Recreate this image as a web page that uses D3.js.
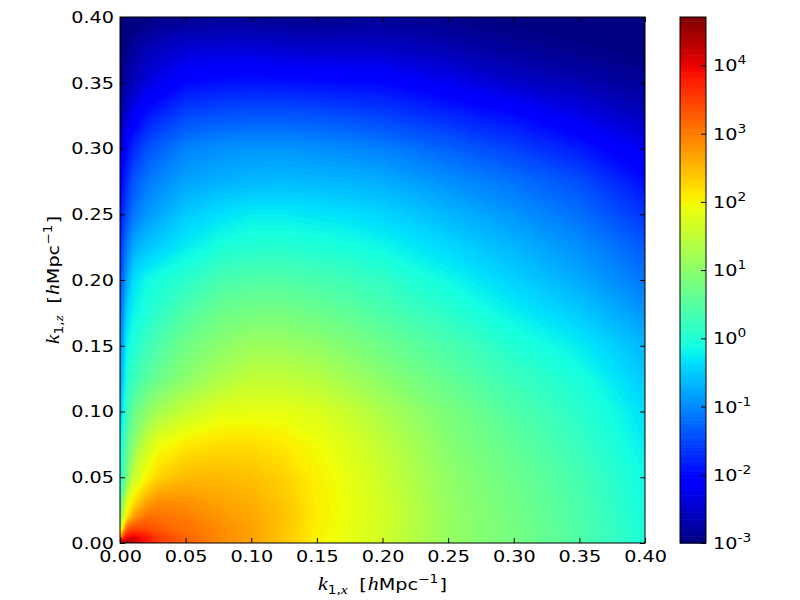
<!DOCTYPE html>
<html>
<head>
<meta charset="utf-8">
<script src="https://cdn.jsdelivr.net/npm/d3@7"></script>
<style>
  body { margin: 0; background: #fff; }
  text { font-family: "DejaVu Sans", sans-serif; fill: #000; }
</style>
</head>
<body>
<div id="chart"></div>
<script>
// grid nodes (h/Mpc), denser close to the axes where the field changes fast
var kxNodes = [0, 0.005, 0.01, 0.02, 0.03, 0.05, 0.075, 0.1, 0.125, 0.15, 0.175, 0.2, 0.25, 0.3, 0.35, 0.4];
var kzNodes = [0, 0.005, 0.01, 0.02, 0.03, 0.05, 0.075, 0.1, 0.125, 0.15, 0.175, 0.2, 0.225, 0.25, 0.275, 0.3, 0.325, 0.35, 0.375, 0.4];

// log10 of the mapped value, one row per kz node, one column per kx node
var logP = [
  [ 4.4,  4.6,  4.4,  3.9,  3.55, 3.2,  2.9,  2.7,  2.4,  2.05, 1.85, 1.65, 1.1,  0.8,  0.45, -0.05],
  [ 2.8,  3.8,  4.0,  3.8,  3.5,  3.2,  2.9,  2.7,  2.4,  2.05, 1.85, 1.65, 1.1,  0.8,  0.45, -0.05],
  [ 1.6,  3.3,  3.5,  3.45, 3.3,  3.1,  2.9,  2.7,  2.4,  2.05, 1.85, 1.65, 1.1,  0.8,  0.45, -0.05],
  [ 1.0,  2.1,  2.7,  3.1,  3.1,  3.0,  2.8,  2.65, 2.45, 2.08, 1.88, 1.68, 1.1,  0.78, 0.42, -0.08],
  [ 0.5,  1.8,  2.2,  2.7,  2.9,  2.85, 2.7,  2.6,  2.4,  2.08, 1.88, 1.66, 1.08, 0.76, 0.4,  -0.1],
  [ 0.0,  0.8,  1.55, 2.0,  2.3,  2.5,  2.5,  2.45, 2.3,  2.05, 1.85, 1.6,  1.05, 0.7,  0.35, -0.15],
  [-0.3,  0.55, 1.0,  1.6,  1.9,  2.1,  2.2,  2.2,  2.1,  1.95, 1.75, 1.5,  0.95, 0.6,  0.22, -0.25],
  [-0.6,  0.25, 0.65, 1.0,  1.25, 1.55, 1.8,  1.85, 1.85, 1.75, 1.55, 1.3,  0.85, 0.45, 0.1,  -0.35],
  [-0.85, 0.0,  0.25, 0.5,  0.7,  1.0,  1.3,  1.5,  1.5,  1.4,  1.2,  1.0,  0.62, 0.25, -0.05, -0.5],
  [-1.05, -0.2, 0.0,  0.25, 0.45, 0.75, 1.0,  1.15, 1.15, 1.05, 0.9,  0.72, 0.4,  0.02, -0.25, -0.65],
  [-1.3, -0.45, -0.2, 0.0,  0.15, 0.45, 0.7,  0.8,  0.8,  0.7,  0.58, 0.42, 0.1,  -0.22, -0.5, -0.9],
  [-1.5, -0.8, -0.35, -0.15, -0.05, 0.1, 0.35, 0.45, 0.45, 0.37, 0.28, 0.15, -0.15, -0.45, -0.75, -1.15],
  [-1.7, -1.1, -0.75, -0.55, -0.45, -0.25, -0.05, 0.05, 0.05, 0.0, -0.07, -0.16, -0.4, -0.66, -0.95, -1.35],
  [-1.9, -1.45, -1.15, -0.9, -0.75, -0.5, -0.35, -0.25, -0.25, -0.3, -0.35, -0.42, -0.65, -0.9, -1.2, -1.65],
  [-2.1, -1.7, -1.4, -1.15, -1.0, -0.8, -0.7, -0.65, -0.62, -0.65, -0.67, -0.72, -0.95, -1.17, -1.45, -1.95],
  [-2.5, -2.0, -1.75, -1.45, -1.3, -1.05, -0.95, -0.9, -0.9, -0.95, -1.0, -1.07, -1.3, -1.55, -1.85, -2.25],
  [-2.8, -2.45, -2.2, -1.9, -1.75, -1.5, -1.42, -1.38, -1.38, -1.42, -1.48, -1.55, -1.75, -1.97, -2.3, -2.6],
  [-2.95, -2.75, -2.6, -2.4, -2.25, -2.0, -1.92, -1.9, -1.92, -1.95, -1.98, -2.0, -2.25, -2.5, -2.67, -2.85],
  [-3.1, -2.95, -2.8, -2.65, -2.55, -2.42, -2.4, -2.4, -2.45, -2.5, -2.5, -2.52, -2.65, -2.83, -2.92, -3.0],
  [-3.2, -3.1, -3.05, -3.0, -2.95, -2.9, -2.88, -2.88, -2.9, -2.9, -2.88, -2.85, -2.95, -3.0, -3.05, -3.1]
];

var axisTicks = [0, 0.05, 0.1, 0.15, 0.2, 0.25, 0.3, 0.35, 0.4];
var cbExponents = [-3, -2, -1, 0, 1, 2, 3, 4];
var vmin = -3, vmax = 4.71;

var margin = {top: 17, left: 120},
    width = 525,
    height = 526,
    cbLeft = 680,
    cbWidth = 26;

var fontSize = 16.7,
    stretch = 1.15;   // the reference text is drawn a little wide

var svg = d3.select("#chart").append("svg")
    .attr("width", 800)
    .attr("height", 600);

var x = d3.scaleLinear().domain([0, 0.4]).range([0, width]);
var y = d3.scaleLinear().domain([0, 0.4]).range([height, 0]);

// matplotlib "jet"
var jetR = d3.scaleLinear().domain([0, 0.35, 0.66, 0.89, 1]).range([0, 0, 1, 1, 0.5]).clamp(true);
var jetG = d3.scaleLinear().domain([0, 0.125, 0.375, 0.64, 0.91, 1]).range([0, 0, 1, 1, 0, 0]).clamp(true);
var jetB = d3.scaleLinear().domain([0, 0.11, 0.34, 0.65, 1]).range([0.5, 1, 1, 0, 0]).clamp(true);
var norm = d3.scaleLinear().domain([vmin, vmax]).range([0, 1]).clamp(true);
function color(v) {
  var t = norm(v);
  return d3.rgb(jetR(t) * 255, jetG(t) * 255, jetB(t) * 255).toString();
}

// filled contours of the grid, stacked from low to high
var nx = kxNodes.length, nz = kzNodes.length;
var values = [].concat.apply([], logP);
var step = 0.05;
var thresholds = d3.range(-3.3, vmax + step, step);
var contours = d3.contours().size([nx, nz]).thresholds(thresholds)(values);

// grid index -> k (nodes are not evenly spaced)
var ix = d3.scaleLinear().domain(d3.range(nx)).range(kxNodes).clamp(true);
var iz = d3.scaleLinear().domain(d3.range(nz)).range(kzNodes).clamp(true);
var proj = d3.geoTransform({
  point: function(px, py) { this.stream.point(x(ix(px - 0.5)), y(iz(py - 0.5))); }
});
var path = d3.geoPath(proj);

var g = svg.append("g")
    .attr("transform", "translate(" + margin.left + "," + margin.top + ")");

g.append("g").selectAll("path")
    .data(contours)
    .enter()
    .append("path")
    .attr("d", path)
    .attr("fill", function(d) { return color(d.value + step / 2); })
    .attr("stroke", "none");

// axes, ticks pointing inwards on all four sides
function styleAxis(sel) {
  sel.select(".domain").remove();
  sel.selectAll(".tick line").attr("stroke", "#000");
  sel.selectAll("text")
      .attr("font-size", fontSize)
      .attr("font-family", "DejaVu Sans")
      .attr("transform", function() {
        var tx = +d3.select(this).attr("x") || 0;
        return "translate(" + tx + ",0) scale(" + stretch + ",1) translate(" + (-tx) + ",0)";
      });
}
var fmt = d3.format(".2f");

g.append("g")
    .attr("transform", "translate(0," + height + ")")
    .call(d3.axisBottom(x).tickValues(axisTicks).tickFormat(fmt).tickSizeInner(-5).tickSizeOuter(0).tickPadding(7))
    .call(styleAxis);
g.append("g")
    .call(d3.axisLeft(y).tickValues(axisTicks).tickFormat(fmt).tickSizeInner(-5).tickSizeOuter(0).tickPadding(6))
    .call(styleAxis);
g.append("g")
    .call(d3.axisTop(x).tickValues(axisTicks).tickFormat("").tickSizeInner(-5).tickSizeOuter(0))
    .call(styleAxis);
g.append("g")
    .attr("transform", "translate(" + width + ",0)")
    .call(d3.axisRight(y).tickValues(axisTicks).tickFormat("").tickSizeInner(-5).tickSizeOuter(0))
    .call(styleAxis);

g.append("rect")
    .attr("width", width)
    .attr("height", height)
    .attr("fill", "none")
    .attr("stroke", "#000")
    .attr("stroke-width", 1);

// axis titles built from pieces (math style)
function mathLabel(sel, parts) {
  parts.forEach(function(p) {
    var t = sel.append("tspan").text(p.text);
    if (p.italic) t.attr("font-family", "Liberation Serif, serif").attr("font-style", "italic").attr("font-size", p.size || 19);
    if (p.size && !p.italic) t.attr("font-size", p.size);
    if (p.dy) t.attr("dy", p.dy);
    if (p.dx) t.attr("dx", p.dx);
  });
}
function kLabel(axisName) {
  return [
    {text: "k", italic: true},
    {text: "1,", size: 12, dy: 4},
    {text: axisName, italic: true, size: 13.5},
    {text: "[", dx: 10, dy: -4},
    {text: "h", italic: true, dx: 1},
    {text: "Mpc"},
    {text: "\u22121", size: 12, dy: -7},
    {text: "]", dy: 7, dx: 1}
  ];
}

svg.append("text")
    .attr("transform", "translate(" + (margin.left + width / 2) + ",590) scale(" + stretch + ",1)")
    .attr("text-anchor", "middle")
    .attr("font-size", fontSize)
    .call(mathLabel, kLabel("x"));

svg.append("text")
    .attr("transform", "translate(59," + (margin.top + height / 2) + ") rotate(-90) scale(" + stretch + ",1)")
    .attr("text-anchor", "middle")
    .attr("font-size", fontSize)
    .call(mathLabel, kLabel("z"));

// colour bar
var cb = d3.scaleLog().domain([1e-3, Math.pow(10, vmax)]).range([height, 0]);
var cbg = svg.append("g")
    .attr("transform", "translate(" + cbLeft + "," + margin.top + ")");

var levels = d3.range(vmin, vmax, step);
cbg.selectAll("rect.level")
    .data(levels)
    .enter()
    .append("rect")
    .attr("class", "level")
    .attr("x", 0)
    .attr("width", cbWidth)
    .attr("y", function(d) { return cb(Math.pow(10, Math.min(d + step, vmax))); })
    .attr("height", function(d) { return cb(Math.pow(10, d)) - cb(Math.pow(10, Math.min(d + step, vmax))) + 0.6; })
    .attr("fill", function(d) { return color(d + step / 2); });

cbg.append("g")
    .attr("transform", "translate(" + cbWidth + ",0)")
    .call(d3.axisRight(cb).tickValues(cbExponents.map(function(e) { return Math.pow(10, e); }))
      .tickFormat("").tickSizeInner(-5).tickSizeOuter(0))
    .call(styleAxis);

cbg.append("rect")
    .attr("width", cbWidth)
    .attr("height", height)
    .attr("fill", "none")
    .attr("stroke", "#000")
    .attr("stroke-width", 1);

var cbLabels = cbg.selectAll("text.cblabel")
    .data(cbExponents)
    .enter()
    .append("text")
    .attr("class", "cblabel")
    .attr("transform", function(d) {
      return "translate(" + (cbWidth + 7) + "," + (cb(Math.pow(10, d)) + 6) + ") scale(" + stretch + ",1)";
    })
    .attr("font-size", fontSize);
cbLabels.append("tspan").text("10");
cbLabels.append("tspan")
    .attr("font-size", 12)
    .attr("dy", -7)
    .text(function(d) { return d < 0 ? "-" + (-d) : String(d); });
</script>
</body>
</html>
